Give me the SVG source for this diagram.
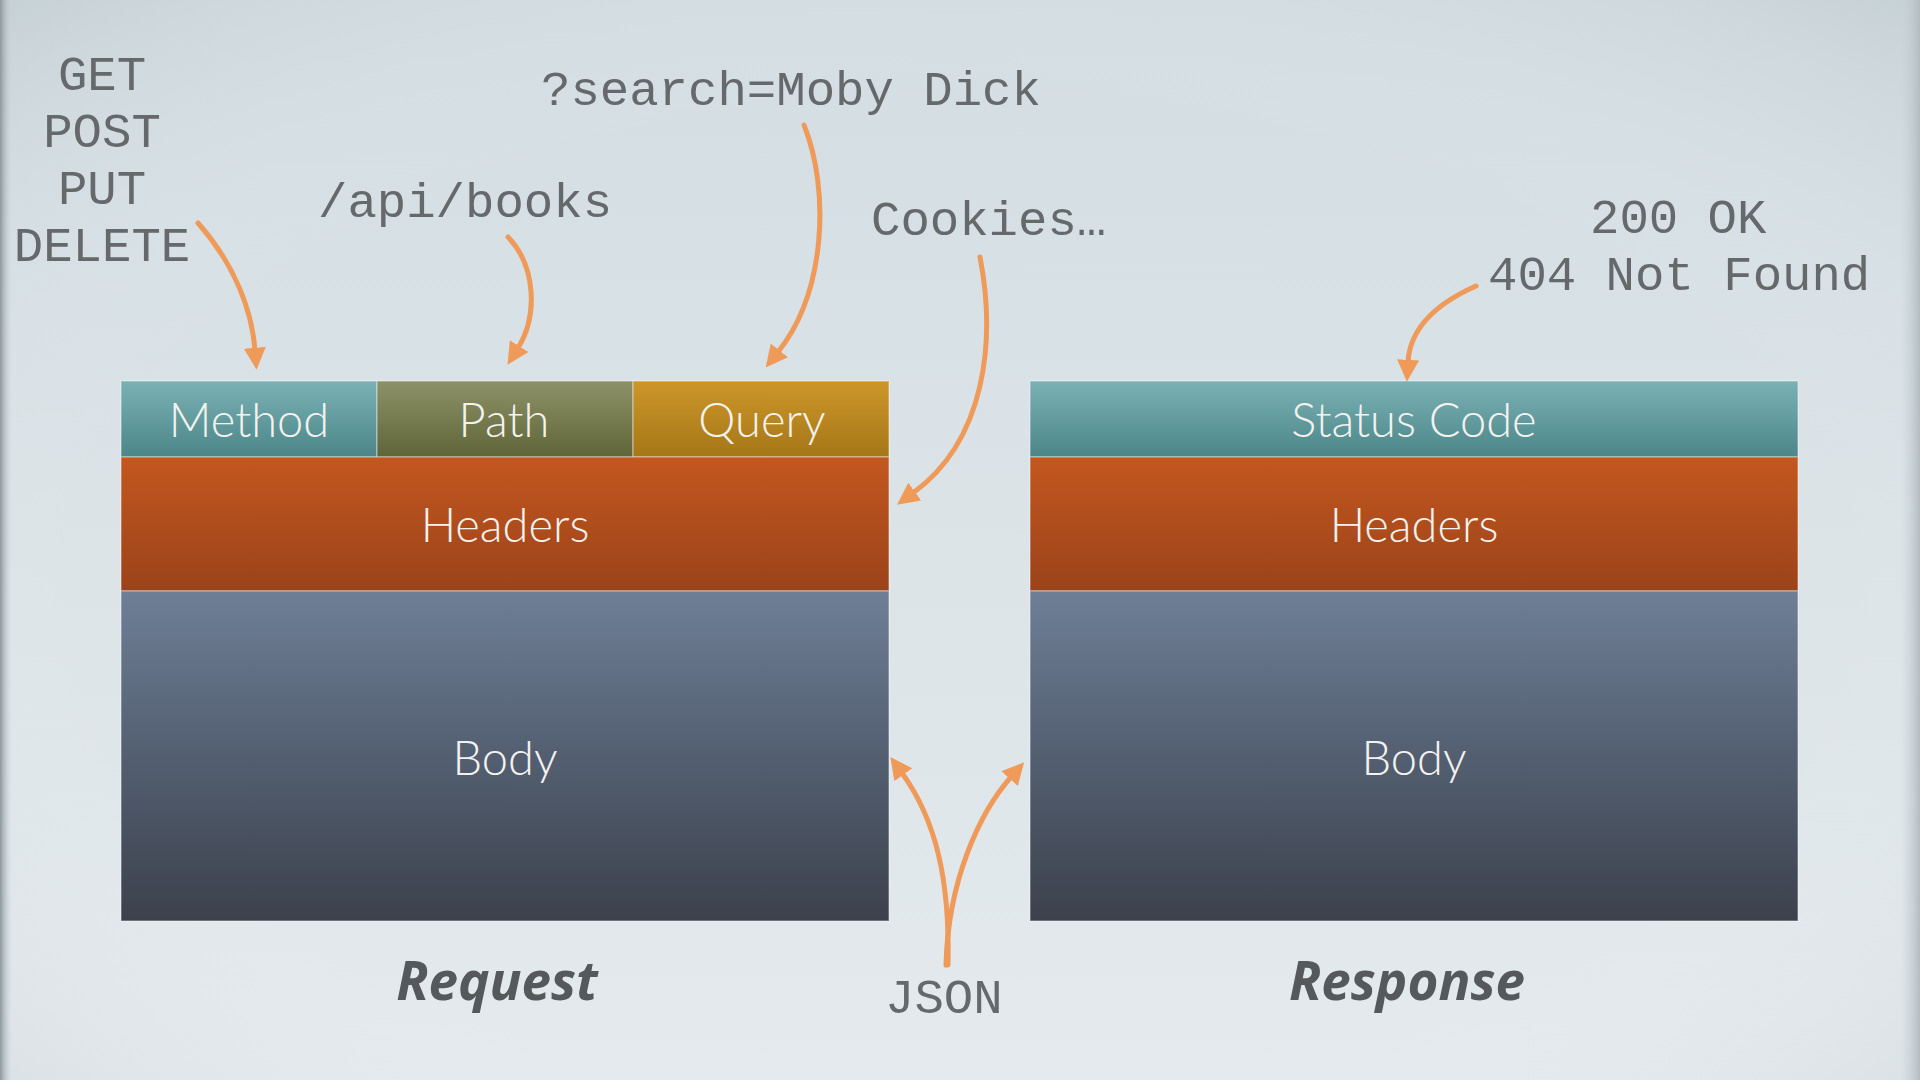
<svg xmlns="http://www.w3.org/2000/svg" width="1920" height="1080" viewBox="0 0 1920 1080">
  <defs>
    <linearGradient id="bg" x1="0" y1="0" x2="0" y2="1">
      <stop offset="0" stop-color="#d3dde2"/>
      <stop offset="1" stop-color="#e4eaed"/>
    </linearGradient>
    <radialGradient id="vig" cx="0.5" cy="0.55" r="0.75">
      <stop offset="0.6" stop-color="#ffffff" stop-opacity="0"/>
      <stop offset="1" stop-color="#9aa8ae" stop-opacity="0.25"/>
    </radialGradient>
    <linearGradient id="edgeL" x1="0" y1="0" x2="1" y2="0">
      <stop offset="0" stop-color="#8e989c"/>
      <stop offset="1" stop-color="#c9d2d6" stop-opacity="0"/>
    </linearGradient>
    <linearGradient id="edgeR" x1="1" y1="0" x2="0" y2="0">
      <stop offset="0" stop-color="#b3bdc1"/>
      <stop offset="1" stop-color="#c9d2d6" stop-opacity="0"/>
    </linearGradient>
    <linearGradient id="gTeal" x1="0" y1="0" x2="0" y2="1">
      <stop offset="0" stop-color="#7ab1b4"/>
      <stop offset="1" stop-color="#4c8689"/>
    </linearGradient>
    <linearGradient id="gOlive" x1="0" y1="0" x2="0" y2="1">
      <stop offset="0" stop-color="#8d9167"/>
      <stop offset="1" stop-color="#5f6539"/>
    </linearGradient>
    <linearGradient id="gGold" x1="0" y1="0" x2="0" y2="1">
      <stop offset="0" stop-color="#cd9629"/>
      <stop offset="1" stop-color="#a57718"/>
    </linearGradient>
    <linearGradient id="gHead" x1="0" y1="0" x2="0" y2="1">
      <stop offset="0" stop-color="#c3571f"/>
      <stop offset="1" stop-color="#9b431a"/>
    </linearGradient>
    <linearGradient id="gBody" x1="0" y1="0" x2="0" y2="1">
      <stop offset="0" stop-color="#6e7f96"/>
      <stop offset="0.5" stop-color="#535f71"/>
      <stop offset="1" stop-color="#3c414c"/>
    </linearGradient>
    <marker id="ah" viewBox="0 0 10 10" refX="1" refY="5" markerUnits="userSpaceOnUse" markerWidth="22" markerHeight="24" orient="auto">
      <path d="M0,0 L10,5 L0,10 z" fill="#ef9a58"/>
    </marker>
    <style>
      .mono { font-family: "Liberation Mono", "Courier New", monospace; font-size: 49px; fill: #66696b; }
      .lbl { font-family: Lato, "Open Sans", sans-serif; font-weight: 300; font-size: 47px; fill: #f4f2ee; text-anchor: middle; }
      .cap { font-family: "Open Sans", Lato, sans-serif; font-weight: 700; font-style: italic; font-size: 53px; fill: #55595b; text-anchor: middle; }
      .seg { stroke: #ffffff; stroke-opacity: 0.35; stroke-width: 1.5; }
      .arr { fill: none; stroke: #ef9a58; stroke-width: 5; stroke-linecap: round; marker-end: url(#ah); }
    </style>
  </defs>

  <rect x="0" y="0" width="1920" height="1080" fill="url(#bg)"/>
  <rect x="0" y="0" width="1920" height="1080" fill="url(#vig)"/>
  <rect x="0" y="0" width="12" height="1080" fill="url(#edgeL)"/>
  <rect x="1900" y="0" width="20" height="1080" fill="url(#edgeR)"/>

  <g id="request">
    <g id="method">
      <rect class="seg" x="121" y="381" width="256" height="76" fill="url(#gTeal)"/>
      <text class="lbl" x="249" y="437">Method</text>
    </g>
    <g id="path">
      <rect class="seg" x="377" y="381" width="256" height="76" fill="url(#gOlive)"/>
      <text class="lbl" x="504" y="437">Path</text>
    </g>
    <g id="query">
      <rect class="seg" x="633" y="381" width="256" height="76" fill="url(#gGold)"/>
      <text class="lbl" x="762" y="437">Query</text>
    </g>
    <g id="req-headers">
      <rect class="seg" x="121" y="457" width="768" height="134" fill="url(#gHead)"/>
      <text class="lbl" x="505" y="542">Headers</text>
    </g>
    <g id="req-body">
      <rect class="seg" x="121" y="591" width="768" height="330" fill="url(#gBody)"/>
      <text class="lbl" x="505" y="775">Body</text>
    </g>
    <text class="cap" x="497" y="1000">Request</text>
  </g>

  <g id="response">
    <g id="status">
      <rect class="seg" x="1030" y="381" width="768" height="76" fill="url(#gTeal)"/>
      <text class="lbl" x="1414" y="437">Status Code</text>
    </g>
    <g id="res-headers">
      <rect class="seg" x="1030" y="457" width="768" height="134" fill="url(#gHead)"/>
      <text class="lbl" x="1414" y="542">Headers</text>
    </g>
    <g id="res-body">
      <rect class="seg" x="1030" y="591" width="768" height="330" fill="url(#gBody)"/>
      <text class="lbl" x="1414" y="775">Body</text>
    </g>
    <text class="cap" x="1407" y="1000">Response</text>
  </g>

  <g id="notes">
    <text class="mono" text-anchor="middle" x="102" y="90">GET</text>
    <text class="mono" text-anchor="middle" x="102" y="147">POST</text>
    <text class="mono" text-anchor="middle" x="102" y="204">PUT</text>
    <text class="mono" text-anchor="middle" x="102" y="261">DELETE</text>
    <text class="mono" x="318" y="217">/api/books</text>
    <text class="mono" x="541" y="105">?search=Moby Dick</text>
    <text class="mono" x="871" y="235">Cookies…</text>
    <text class="mono" x="1590" y="233">200 OK</text>
    <text class="mono" x="1488" y="290">404 Not Found</text>
    <text class="mono" x="885" y="1013">JSON</text>
  </g>

  <g id="connectors">
    <path class="arr" d="M198,223 C236,266 252,312 255,350"/>
    <path class="arr" d="M508,237 C536,266 538,316 518,348"/>
    <path class="arr" d="M804,125 C830,190 826,292 778,352"/>
    <path class="arr" d="M980,257 C996,340 986,440 913,493"/>
    <path class="arr" d="M1476,286 C1440,302 1410,326 1408,362"/>
    <path class="arr" d="M948,965 C950,880 936,820 902,773"/>
    <path class="arr" d="M946,965 C948,880 980,812 1011,777"/>
  </g>
</svg>
